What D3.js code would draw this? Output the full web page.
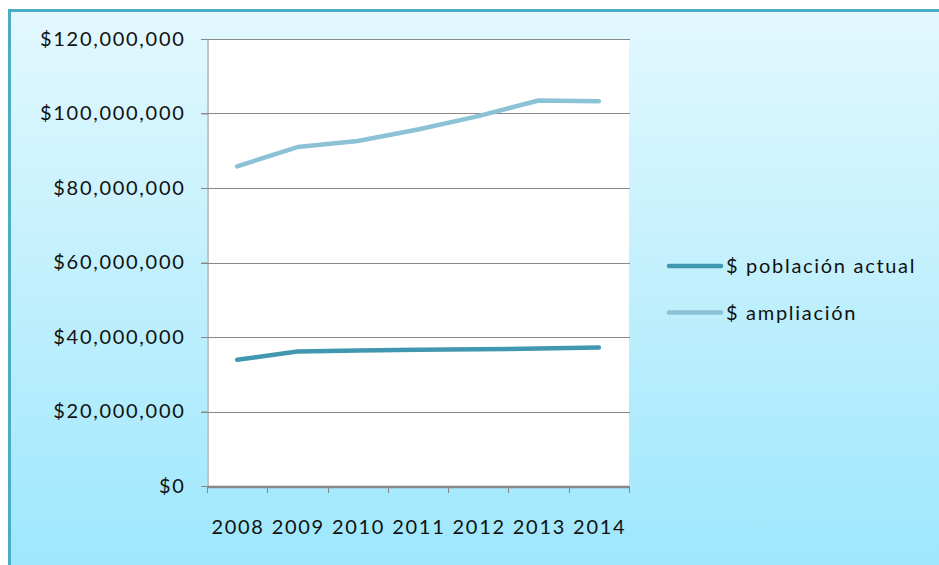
<!DOCTYPE html>
<html>
<head>
<meta charset="utf-8">
<script src="https://cdn.jsdelivr.net/npm/d3@7"></script>
<style>
  html, body { margin: 0; padding: 0; background: #ffffff; }
  svg { display: block; }
  text { font-family: Lato, "Open Sans", sans-serif; fill: #111; letter-spacing: 1.7px; }
</style>
</head>
<body>
<svg id="chart" width="939" height="565"></svg>
<script>
// Years on the category axis
const years = ["2008", "2009", "2010", "2011", "2012", "2013", "2014"];
// Cost series (pesos)
const poblacionActual = [33900000, 36100000, 36400000, 36600000, 36700000, 36900000, 37200000];
const ampliacion = [85800000, 91000000, 92600000, 95700000, 99300000, 103500000, 103300000];
// Value axis ticks
const yTicks = [0, 20000000, 40000000, 60000000, 80000000, 100000000, 120000000];
const seriesNames = ["$ población actual", "$ ampliación"];
const seriesColors = ["#4297B0", "#8CC2D6"];

const svg = d3.select("#chart");
const W = 939, H = 565;
const FONT = 20;

// Panel background with vertical gradient
const defs = svg.append("defs");
const grad = defs.append("linearGradient").attr("id", "bg").attr("x1", 0).attr("y1", 0).attr("x2", 0).attr("y2", 1);
grad.append("stop").attr("offset", "0%").attr("stop-color", "#E3F8FE");
grad.append("stop").attr("offset", "100%").attr("stop-color", "#9DE7FC");

svg.append("rect").attr("x", 8).attr("y", 9).attr("width", W).attr("height", H)
  .attr("fill", "url(#bg)");
// Frame (top and left edges visible)
svg.append("line").attr("x1", 8).attr("x2", W).attr("y1", 10.5).attr("y2", 10.5)
  .attr("stroke", "#4BACC6").attr("stroke-width", 3);
svg.append("line").attr("x1", 9.5).attr("x2", 9.5).attr("y1", 9).attr("y2", H)
  .attr("stroke", "#4BACC6").attr("stroke-width", 3);

const plot = { left: 207, right: 629, top: 39, bottom: 486 };

const x = d3.scaleBand().domain(years).range([plot.left, plot.right]);
const y = d3.scaleLinear().domain([0, 120000000]).range([plot.bottom, plot.top]);

// Plot area
svg.append("rect").attr("x", plot.left).attr("y", plot.top)
  .attr("width", plot.right - plot.left).attr("height", plot.bottom - plot.top)
  .attr("fill", "#ffffff");

// Gridlines
svg.append("g").selectAll("line").data(yTicks.filter(d => d > 0)).join("line")
  .attr("x1", plot.left - 6).attr("x2", plot.right + 1)
  .attr("y1", d => Math.round(y(d)) + 0.5).attr("y2", d => Math.round(y(d)) + 0.5)
  .attr("stroke", "#888").attr("stroke-width", 1);

// Value axis
const fmt = d => "$" + d3.format(",")(d);
const yAxis = svg.append("g").attr("transform", `translate(${plot.left + 0.5},0)`)
  .call(d3.axisLeft(y).tickValues(yTicks).tickFormat(fmt).tickSize(6).tickPadding(16));
yAxis.select(".domain").attr("stroke", "#888");
yAxis.selectAll(".tick line").attr("stroke", "#888");
yAxis.selectAll(".tick text").attr("font-size", FONT).attr("fill", "#111")
  .style("font-family", "Lato, sans-serif");

// Category axis
const xAxis = svg.append("g").attr("transform", `translate(0,${plot.bottom + 0.5})`)
  .call(d3.axisBottom(x).tickSize(0).tickPadding(33));
xAxis.select(".domain").attr("stroke", "#888").attr("stroke-width", 2.5);
xAxis.selectAll(".tick text").attr("font-size", FONT).attr("fill", "#111")
  .attr("dx", "0.85px")
  .style("font-family", "Lato, sans-serif");
// Category boundary ticks
const bounds = years.map(d => x(d)).concat([plot.right]);
svg.append("g").selectAll("line").data(bounds).join("line")
  .attr("x1", d => Math.round(d) + 0.5).attr("x2", d => Math.round(d) + 0.5)
  .attr("y1", plot.bottom).attr("y2", plot.bottom + 7)
  .attr("stroke", "#888").attr("stroke-width", 1);

// Lines
const line = d3.line()
  .x((d, i) => x(years[i]) + x.bandwidth() / 2)
  .y(d => y(d));

[ampliacion, poblacionActual].forEach((vals, k) => {
  const color = k === 0 ? seriesColors[1] : seriesColors[0];
  svg.append("path").datum(vals)
    .attr("d", line)
    .attr("fill", "none")
    .attr("stroke", color)
    .attr("stroke-width", 4.5)
    .attr("stroke-linejoin", "round")
    .attr("stroke-linecap", "round");
});

// Legend
const legend = svg.append("g");
seriesNames.forEach((name, i) => {
  const ly = 266 + i * 46.5;
  legend.append("line").attr("x1", 669).attr("x2", 721).attr("y1", ly).attr("y2", ly)
    .attr("stroke", seriesColors[i]).attr("stroke-width", 4.5).attr("stroke-linecap", "round");
  legend.append("text").attr("x", 726).attr("y", ly).attr("dy", "0.35em")
    .attr("font-size", FONT).text(name);
});
</script>
</body>
</html>
